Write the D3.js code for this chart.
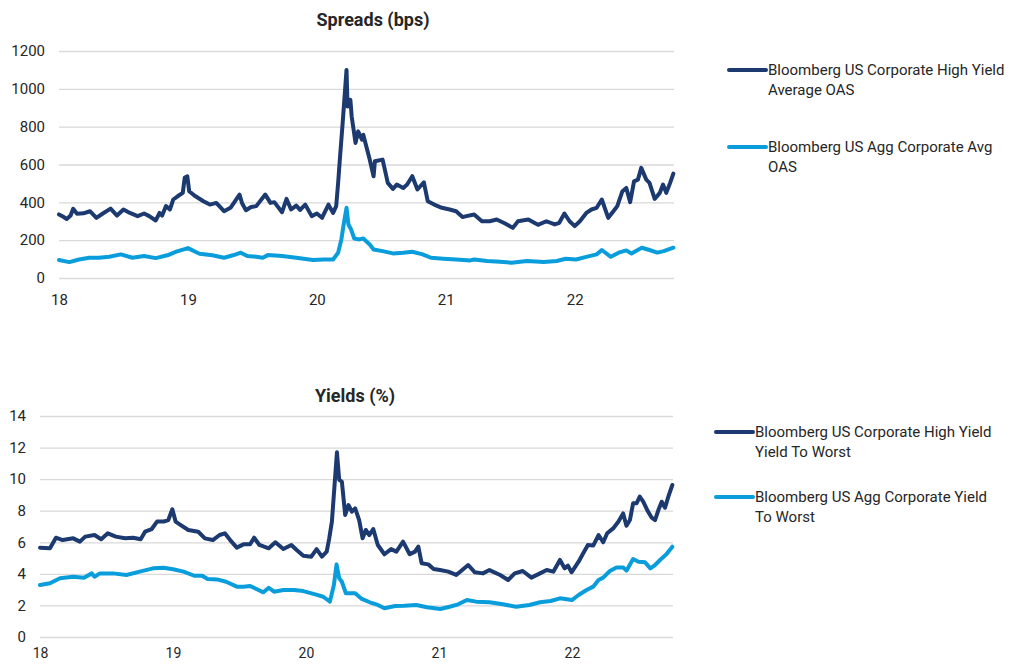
<!DOCTYPE html>
<html><head><meta charset="utf-8">
<script src="https://cdn.jsdelivr.net/npm/d3@7"></script>
<style>
body{margin:0;background:#fff}
text{font-family:Roboto,"Noto Sans",sans-serif;fill:#262626}
</style></head>
<body><svg id="c" width="1020" height="664"></svg>
<script>
// ---------- data ----------
const yearTicks = [2018, 2019, 2020, 2021, 2022];
const yearTickLabels = ["18", "19", "20", "21", "22"];
const spreadTicks = [0, 200, 400, 600, 800, 1000, 1200];
const yieldTicks = [0, 2, 4, 6, 8, 10, 12, 14];

const spreadsTitle = "Spreads (bps)";
const yieldsTitle = "Yields (%)";
const hyOasName = ["Bloomberg US Corporate High Yield", "Average OAS"];
const aggOasName = ["Bloomberg US Agg Corporate Avg", "OAS"];
const hyYtwName = ["Bloomberg US Corporate High Yield", "Yield To Worst"];
const aggYtwName = ["Bloomberg US Agg Corporate Yield", "To Worst"];

const hyOasYears = [2018.0,2018.03,2018.06,2018.09,2018.11,2018.14,2018.19,2018.24,2018.29,2018.34,2018.40,2018.45,2018.50,2018.55,2018.61,2018.66,2018.70,2018.75,2018.78,2018.80,2018.83,2018.86,2018.886,2018.92,2018.96,2018.975,2018.995,2019.01,2019.05,2019.12,2019.17,2019.22,2019.28,2019.33,2019.40,2019.42,2019.45,2019.49,2019.53,2019.60,2019.64,2019.67,2019.73,2019.765,2019.80,2019.84,2019.87,2019.91,2019.96,2020.0,2020.04,2020.09,2020.126,2020.15,2020.165,2020.18,2020.20,2020.23,2020.238,2020.26,2020.27,2020.30,2020.32,2020.35,2020.36,2020.41,2020.44,2020.45,2020.51,2020.55,2020.59,2020.62,2020.67,2020.70,2020.74,2020.78,2020.83,2020.86,2020.91,2020.97,2021.03,2021.08,2021.13,2021.16,2021.22,2021.28,2021.34,2021.395,2021.46,2021.52,2021.56,2021.64,2021.715,2021.78,2021.845,2021.88,2021.92,2021.96,2022.0,2022.04,2022.09,2022.13,2022.17,2022.21,2022.26,2022.30,2022.33,2022.37,2022.40,2022.43,2022.46,2022.49,2022.516,2022.555,2022.58,2022.62,2022.66,2022.685,2022.71,2022.74,2022.765];
const hyOasValues = [336,325,312,330,366,340,342,353,318,341,367,330,362,344,327,341,327,304,344,330,380,362,415,432,450,530,538,459,436,406,388,397,353,371,441,395,358,375,380,441,397,401,348,418,362,383,360,388,327,341,318,388,344,380,503,643,819,1100,907,942,854,714,775,731,757,626,538,617,626,503,471,494,476,494,538,468,506,406,388,371,362,353,322,327,336,300,300,309,288,265,300,309,281,300,283,292,341,300,274,300,344,362,371,415,318,353,380,459,476,401,511,520,582,520,503,418,450,494,450,503,552];

const aggOasYears = [2018.0,2018.08,2018.155,2018.235,2018.31,2018.39,2018.48,2018.57,2018.66,2018.75,2018.84,2018.91,2019.0,2019.09,2019.19,2019.28,2019.35,2019.41,2019.46,2019.53,2019.58,2019.62,2019.73,2019.84,2019.97,2020.05,2020.126,2020.165,2020.19,2020.21,2020.23,2020.245,2020.265,2020.29,2020.33,2020.36,2020.41,2020.44,2020.51,2020.59,2020.67,2020.74,2020.82,2020.885,2020.98,2021.08,2021.19,2021.22,2021.32,2021.42,2021.51,2021.63,2021.76,2021.86,2021.93,2022.01,2022.09,2022.17,2022.21,2022.28,2022.34,2022.40,2022.44,2022.52,2022.58,2022.64,2022.69,2022.765];
const aggOasValues = [95,84,98,107,107,112,125,107,116,105,120,139,158,128,120,107,120,134,116,112,107,121,116,107,95,98,98,134,204,292,371,283,257,209,204,209,177,151,142,130,134,139,125,107,102,98,93,98,90,86,81,90,84,90,102,98,112,125,148,112,134,146,130,160,148,134,142,160];

const hyYtwYears = [2018.0,2018.075,2018.12,2018.17,2018.25,2018.30,2018.34,2018.41,2018.46,2018.51,2018.57,2018.64,2018.70,2018.757,2018.79,2018.84,2018.88,2018.93,2018.965,2018.995,2019.02,2019.05,2019.115,2019.19,2019.24,2019.30,2019.35,2019.39,2019.43,2019.48,2019.53,2019.58,2019.61,2019.65,2019.72,2019.77,2019.83,2019.89,2019.93,2019.98,2020.04,2020.08,2020.12,2020.156,2020.175,2020.195,2020.215,2020.233,2020.25,2020.27,2020.295,2020.32,2020.345,2020.37,2020.40,2020.426,2020.45,2020.476,2020.506,2020.54,2020.59,2020.64,2020.68,2020.73,2020.78,2020.82,2020.845,2020.87,2020.92,2020.96,2021.008,2021.07,2021.13,2021.22,2021.27,2021.33,2021.38,2021.46,2021.52,2021.57,2021.63,2021.695,2021.76,2021.81,2021.86,2021.91,2021.945,2021.97,2021.997,2022.05,2022.085,2022.12,2022.16,2022.20,2022.235,2022.265,2022.31,2022.35,2022.385,2022.41,2022.436,2022.46,2022.486,2022.51,2022.536,2022.57,2022.60,2022.625,2022.65,2022.675,2022.70,2022.725,2022.755];
const hyYtwValues = [5.66,5.62,6.29,6.14,6.25,6.04,6.36,6.46,6.19,6.57,6.36,6.25,6.29,6.19,6.67,6.84,7.31,7.31,7.41,8.09,7.31,7.14,6.78,6.67,6.25,6.14,6.46,6.57,6.14,5.66,5.87,5.87,6.29,5.83,5.62,6.0,5.57,5.83,5.51,5.15,5.09,5.57,5.09,5.41,6.25,7.31,9.63,11.70,9.95,9.84,7.73,8.36,7.94,8.15,7.41,6.25,6.78,6.46,6.84,5.83,5.24,5.57,5.41,6.04,5.24,5.41,5.72,4.67,4.60,4.31,4.24,4.14,3.93,4.56,4.10,4.03,4.24,3.93,3.61,4.03,4.18,3.76,4.03,4.24,4.14,4.88,4.35,4.52,4.10,4.77,5.30,5.83,5.79,6.46,6.0,6.57,6.88,7.31,7.83,7.05,7.41,8.47,8.47,8.89,8.57,7.98,7.56,7.41,8.04,8.57,8.19,8.89,9.63];

const aggYtwYears = [2018.0,2018.075,2018.15,2018.25,2018.33,2018.39,2018.41,2018.45,2018.55,2018.65,2018.75,2018.85,2018.93,2019.0,2019.08,2019.16,2019.22,2019.26,2019.33,2019.40,2019.48,2019.53,2019.58,2019.68,2019.72,2019.76,2019.83,2019.91,2019.98,2020.07,2020.13,2020.18,2020.21,2020.23,2020.25,2020.27,2020.30,2020.37,2020.42,2020.48,2020.54,2020.59,2020.67,2020.74,2020.83,2020.91,2021.01,2021.08,2021.145,2021.21,2021.28,2021.38,2021.48,2021.58,2021.68,2021.76,2021.84,2021.91,2022.0,2022.05,2022.11,2022.16,2022.20,2022.235,2022.285,2022.335,2022.385,2022.41,2022.46,2022.50,2022.55,2022.59,2022.625,2022.675,2022.71,2022.755];
const aggYtwValues = [3.29,3.40,3.72,3.82,3.76,4.03,3.82,4.03,4.03,3.93,4.14,4.35,4.39,4.29,4.14,3.88,3.88,3.67,3.65,3.50,3.19,3.19,3.23,2.83,3.12,2.87,2.98,2.98,2.91,2.70,2.55,2.24,3.29,4.60,3.72,3.50,2.77,2.77,2.41,2.20,2.03,1.82,1.96,1.98,2.03,1.88,1.77,1.92,2.07,2.34,2.24,2.20,2.07,1.92,2.03,2.20,2.28,2.45,2.34,2.66,2.98,3.19,3.61,3.76,4.18,4.41,4.41,4.20,4.94,4.77,4.73,4.35,4.56,4.98,5.24,5.72];

// ---------- drawing ----------
const navy = "#1c3a70", sky = "#0a9ddb";
const svg = d3.select("#c");

function panel(cfg) {
  const x = d3.scaleLinear().domain(cfg.xDomain).range([cfg.left, cfg.right]);
  const y = d3.scaleLinear().domain(cfg.yDomain).range([cfg.bottom, cfg.top]);
  const g = svg.append("g");

  const ya = g.append("g").attr("transform", `translate(${cfg.left},0)`)
    .call(d3.axisLeft(y).tickValues(cfg.yTicks).tickSize(-(cfg.right - cfg.left)).tickPadding(14).tickFormat(d3.format("d")));
  ya.select(".domain").remove();
  ya.selectAll(".tick line").attr("stroke", "#d9d9d9").attr("stroke-width", 1.3);
  ya.selectAll(".tick text").style("font-size", "15px").attr("fill", "#262626").attr("font-family", null);

  const xa = g.append("g").attr("transform", `translate(0,${cfg.bottom})`)
    .call(d3.axisBottom(x).tickValues(yearTicks).tickSize(0).tickPadding(cfg.xPad)
      .tickFormat((d, i) => yearTickLabels[i]));
  xa.select(".domain").remove();
  xa.selectAll(".tick text").style("font-size", cfg.xFont).attr("fill", "#262626").attr("font-family", null);

  g.append("text").attr("x", cfg.titleX).attr("y", cfg.titleY).attr("text-anchor", "middle")
    .style("font-size", "18px").style("font-weight", "bold").attr("fill", "#111").text(cfg.title);

  const line = d3.line().x(d => x(d[0])).y(d => y(d[1]));
  cfg.series.forEach(s => {
    const pts = s.years.map((yr, i) => [yr, s.values[i]]);
    g.append("path").datum(pts).attr("d", line).attr("fill", "none")
      .attr("stroke", s.color).attr("stroke-width", 4)
      .attr("stroke-linejoin", "round").attr("stroke-linecap", "round");
  });

  cfg.series.forEach((s, i) => {
    const ly = cfg.legendY[i];
    g.append("line").attr("x1", cfg.legendX).attr("x2", cfg.legendX + 37)
      .attr("y1", ly).attr("y2", ly).attr("stroke", s.color).attr("stroke-width", 4)
      .attr("stroke-linecap", "round");
    const t = g.append("text").attr("x", cfg.legendX + 39).attr("y", ly + 5).style("font-size", "15px");
    s.name.forEach((ln, j) => t.append("tspan").attr("x", cfg.legendX + 39).attr("dy", j ? 19.8 : 0).text(ln));
  });
}

panel({
  xDomain: [2018, 2022.77], yDomain: [0, 1200], yTicks: spreadTicks,
  left: 59, right: 674, top: 51, bottom: 278, xPad: 16, xFont: "15px",
  title: spreadsTitle, titleX: 373, titleY: 26,
  legendX: 729, legendY: [70, 147],
  series: [
    {years: hyOasYears, values: hyOasValues, color: navy, name: hyOasName},
    {years: aggOasYears, values: aggOasValues, color: sky, name: aggOasName}
  ]
});

panel({
  xDomain: [2018, 2022.76], yDomain: [0, 14], yTicks: yieldTicks,
  left: 40, right: 673, top: 416, bottom: 637, xPad: 11, xFont: "14px",
  title: yieldsTitle, titleX: 355, titleY: 402,
  legendX: 716, legendY: [432, 497],
  series: [
    {years: hyYtwYears, values: hyYtwValues, color: navy, name: hyYtwName},
    {years: aggYtwYears, values: aggYtwValues, color: sky, name: aggYtwName}
  ]
});
</script></body></html>
